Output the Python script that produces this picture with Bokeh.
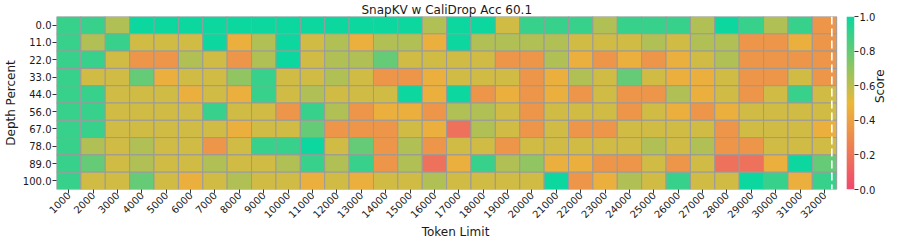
import math
import numpy as np
from bokeh.plotting import figure
from bokeh.models import (Range1d, FixedTicker, LinearColorMapper, LinearAxis,
                          ColumnDataSource, Span, PrintfTickFormatter, CustomJSTickFormatter)
from bokeh.embed import file_html
from bokeh.resources import INLINE

# ---------------- data ----------------
title_text = "SnapKV  w CaliDrop  Acc 60.1"
token_labels = ["1000", "2000", "3000", "4000", "5000", "6000", "7000", "8000",
                "9000", "10000", "11000", "12000", "13000", "14000", "15000", "16000",
                "17000", "18000", "19000", "20000", "21000", "22000", "23000", "24000",
                "25000", "26000", "27000", "28000", "29000", "30000", "31000", "32000"]
depth_labels = ["0.0", "11.0", "22.0", "33.0", "44.0", "56.0", "67.0", "78.0", "89.0", "100.0"]

row_0 = [0.90, 0.90, 0.63, 1.00, 1.00, 1.00, 1.00, 1.00, 1.00, 1.00, 1.00, 1.00, 1.00, 1.00, 1.00, 0.63,
         1.00, 1.00, 0.56, 0.90, 0.90, 0.90, 0.63, 0.90, 0.90, 0.90, 0.63, 1.00, 0.90, 0.63, 0.90, 0.35]
row_11 = [0.90, 0.63, 0.90, 0.56, 0.56, 0.56, 1.00, 0.46, 0.63, 1.00, 0.56, 0.63, 0.46, 0.63, 0.63, 0.46,
          1.00, 0.63, 0.63, 0.63, 0.63, 0.56, 0.56, 0.56, 0.63, 0.56, 0.63, 0.63, 0.35, 0.35, 0.46, 0.35]
row_22 = [0.90, 0.90, 0.56, 0.35, 0.35, 0.63, 0.56, 0.35, 0.63, 1.00, 0.56, 0.63, 0.63, 0.80, 0.56, 0.56,
          0.56, 0.56, 0.35, 0.35, 0.63, 0.46, 0.35, 0.46, 0.35, 0.46, 0.56, 0.63, 0.35, 0.35, 0.35, 0.35]
row_33 = [0.90, 0.56, 0.56, 0.80, 0.46, 0.56, 0.56, 0.70, 0.90, 0.56, 0.56, 0.63, 0.56, 0.35, 0.35, 0.46,
          0.56, 0.56, 0.56, 0.35, 0.46, 0.63, 0.56, 0.80, 0.56, 0.46, 0.46, 0.56, 0.35, 0.35, 0.56, 0.35]
row_44 = [0.90, 0.90, 0.56, 0.56, 0.56, 0.46, 0.56, 0.46, 0.90, 0.56, 0.63, 0.56, 0.56, 0.56, 1.00, 0.46,
          1.00, 0.35, 0.46, 0.35, 0.46, 0.35, 0.56, 0.35, 0.35, 0.63, 0.46, 0.56, 0.35, 0.56, 0.90, 0.56]
row_56 = [0.90, 0.90, 0.56, 0.56, 0.56, 0.56, 0.90, 0.56, 0.56, 0.35, 0.90, 0.63, 0.35, 0.46, 0.46, 0.35,
          0.63, 0.63, 0.56, 0.35, 0.56, 0.56, 0.56, 0.35, 0.56, 0.46, 0.35, 0.46, 0.56, 0.56, 0.56, 0.56]
row_67 = [0.90, 0.90, 0.56, 0.56, 0.56, 0.56, 0.56, 0.46, 0.56, 0.56, 0.80, 0.35, 0.35, 0.35, 0.56, 0.46,
          0.18, 0.63, 0.56, 0.35, 0.56, 0.35, 0.35, 0.56, 0.56, 0.56, 0.56, 0.35, 0.56, 0.56, 0.56, 0.46]
row_78 = [0.90, 0.63, 0.56, 0.63, 0.56, 0.56, 0.35, 0.56, 0.90, 0.90, 1.00, 0.56, 0.80, 0.35, 0.63, 0.35,
          0.56, 0.56, 0.35, 0.56, 0.56, 0.56, 0.56, 0.56, 0.63, 0.56, 0.63, 0.35, 0.35, 0.56, 0.56, 0.56]
row_89 = [0.90, 0.80, 0.56, 0.63, 0.56, 0.56, 0.63, 0.56, 0.56, 0.63, 0.90, 0.63, 0.90, 0.35, 0.63, 0.18,
          0.46, 0.90, 0.63, 0.70, 0.46, 0.46, 0.35, 0.35, 0.56, 0.35, 0.56, 0.18, 0.18, 0.46, 1.00, 0.80]
row_100 = [0.90, 0.56, 0.56, 0.80, 0.56, 0.46, 0.56, 0.63, 0.56, 0.56, 0.46, 0.56, 0.46, 0.56, 0.56, 0.63,
           0.56, 0.56, 0.56, 0.56, 1.00, 0.35, 0.46, 0.63, 0.56, 0.90, 0.56, 0.56, 1.00, 0.90, 0.46, 0.90]
score_rows = [row_0, row_11, row_22, row_33, row_44, row_56, row_67, row_78, row_89, row_100]

limit_line_pos = 31.8           # dashed marker position (in cell units)
cmap_anchors = ["#F0496E", "#EBB839", "#0CD79F"]
score_ticks = [0.0, 0.2, 0.4, 0.6, 0.8, 1.0]

# layout constants (in cell units along x): colour bar strip placed right of the grid
CB_X0, CB_X1 = 32.41, 32.73

# ---------------- palette ----------------
def hex2rgb(h):
    h = h.lstrip("#")
    return [int(h[i:i + 2], 16) for i in (0, 2, 4)]

def build_palette(anchors, n=256):
    rgbs = [hex2rgb(a) for a in anchors]
    out = []
    for k in range(n):
        t = k / (n - 1) * (len(rgbs) - 1)
        i = min(int(t), len(rgbs) - 2)
        f = t - i
        c = [round(rgbs[i][j] + (rgbs[i + 1][j] - rgbs[i][j]) * f) for j in range(3)]
        out.append("#%02x%02x%02x" % tuple(c))
    return out

palette = build_palette(cmap_anchors)
mapper = LinearColorMapper(palette=palette, low=0.0, high=1.0)

n_tok = len(token_labels)
n_dep = len(depth_labels)
xs, ys, vals = [], [], []
for j, r in enumerate(score_rows):
    for i, v in enumerate(r):
        xs.append(i + 0.5)
        ys.append(j + 0.5)
        vals.append(v)
src = ColumnDataSource(data=dict(token=xs, depth=ys, score=vals))

FONT = "DejaVu Sans"
TXT = "#1a1a1a"

p = figure(width=897, height=241,
           x_range=Range1d(0, CB_X1),
           y_range=Range1d(n_dep, 0),
           min_border_left=51, min_border_right=39, min_border_top=16, min_border_bottom=50,
           output_backend="svg", toolbar_location=None, title=title_text)
p.extra_y_ranges = {"cb": Range1d(0, 1)}

p.rect(x="token", y="depth", width=1, height=1, source=src,
       fill_color={"field": "score", "transform": mapper},
       line_color="#9a9a9a", line_width=1)
p.add_layout(Span(location=limit_line_pos, dimension="height", line_color="white",
                  line_dash="8 4", line_width=1.6))

grad = np.linspace(0.0, 1.0, 256).reshape(256, 1)
p.image(image=[grad], x=CB_X0, y=0, dw=CB_X1 - CB_X0, dh=1, color_mapper=mapper,
        y_range_name="cb")

p.title.text_font = FONT
p.title.text_font_size = "12px"
p.title.text_font_style = "normal"
p.title.text_color = TXT
p.title.align = "left"
p.title.offset = 305
p.title.standoff = 0

p.grid.visible = False
p.outline_line_color = None

x_axis = p.below[0]
y_axis = p.left[0]

cb_axis = LinearAxis(y_range_name="cb", ticker=FixedTicker(ticks=score_ticks),
                     formatter=PrintfTickFormatter(format="%.1f"), axis_label="Score")
p.add_layout(cb_axis, "right")

x_axis.ticker = FixedTicker(ticks=[i + 0.5 for i in range(n_tok)])
x_axis.formatter = CustomJSTickFormatter(args=dict(labels=token_labels),
                                         code="return labels[Math.floor(tick)] || '';")
y_axis.ticker = FixedTicker(ticks=[j + 0.5 for j in range(n_dep)])
y_axis.formatter = CustomJSTickFormatter(args=dict(labels=depth_labels),
                                         code="return labels[Math.floor(tick)] || '';")

for ax in (x_axis, y_axis, cb_axis):
    ax.axis_line_color = None
    ax.major_tick_out = 4
    ax.major_tick_in = 0
    ax.minor_tick_line_color = None
    ax.major_tick_line_color = "#333333"
    ax.major_label_text_font = FONT
    ax.major_label_text_font_size = "10px"
    ax.major_label_text_color = TXT
    ax.major_label_standoff = 1
    ax.axis_label_text_font = FONT
    ax.axis_label_text_font_size = "12px"
    ax.axis_label_text_font_style = "normal"
    ax.axis_label_text_color = TXT
    ax.axis_label_standoff = 2
x_axis.axis_label = "Token Limit"
y_axis.axis_label = "Depth Percent"
x_axis.major_label_orientation = math.pi / 4
x_axis.major_label_standoff = 0
x_axis.axis_label_standoff = 0
cb_axis.axis_label_orientation = math.pi / 2

open("out.html", "w").write(file_html(p, INLINE))
